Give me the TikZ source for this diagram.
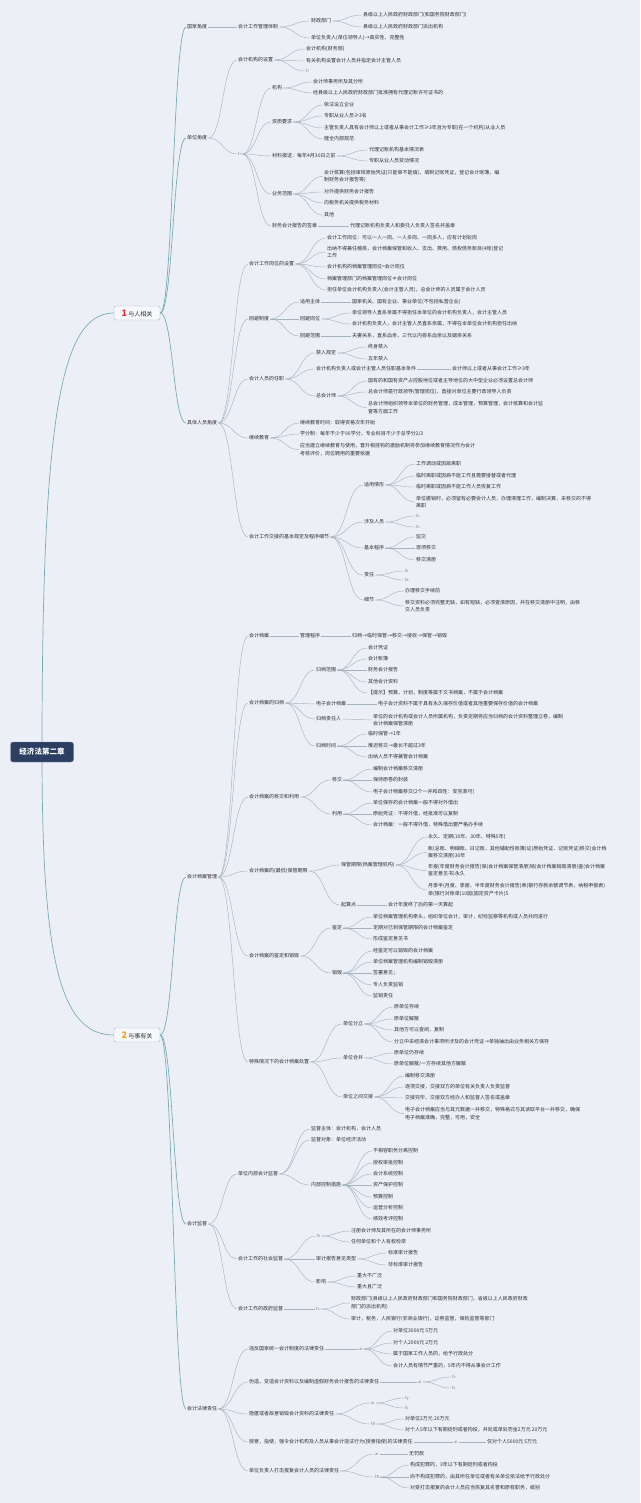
\documentclass[tikz,border=0pt]{standalone}
\usepackage{fontspec}
\setmainfont{Noto Sans CJK SC}
\usetikzlibrary{calc}
\definecolor{bgc}{RGB}{236,240,246}
\definecolor{lnc}{RGB}{165,178,192}
\definecolor{tlc}{RGB}{120,172,178}
\definecolor{txc}{RGB}{45,45,50}
\definecolor{navy}{RGB}{44,62,98}
\definecolor{mkred}{RGB}{222,50,45}
\definecolor{mkorg}{RGB}{238,160,30}
\tikzset{
 t/.style={anchor=west, inner sep=1pt, text=txc, align=left, font=\fontsize{5}{7.6}\selectfont},
 ic/.style={anchor=west, inner sep=1pt, text=gray, font=\fontsize{4}{5}\selectfont},
 ln/.style={draw=lnc, line width=0.45pt},
 tl/.style={draw=tlc, line width=0.7pt},
 rootbox/.style={draw=navy!60!white, fill=navy, text=white, rounded corners=2.5pt, font=\fontsize{7.5}{8}\selectfont\bfseries, minimum width=63, minimum height=20, inner sep=1pt},
 topbox/.style={draw=lnc, fill=white!55!bgc, rounded corners=2pt, text=txc, font=\fontsize{6}{7}\selectfont, minimum width=46, minimum height=14, inner sep=1.5pt}
}
\newcommand\lnk[3][ln]{\draw[#1] let \p1=(#2.east), \p2=(#3.west), \n1={(\x2-\x1)/2} in (\p1) .. controls +(\n1,0) and +(-\n1,0) .. (\p2);}
\newcommand\kids[2]{\foreach \cc in {#2}{\lnk{#1}{\cc}}}
\newcommand\tkids[2]{\foreach \cc in {#2}{\lnk[tl]{#1}{\cc}}}
\begin{document}
\begin{tikzpicture}[x=1pt,y=-1pt]
\fill[bgc] (0,0) rectangle (640,1503);
\useasboundingbox (0,0) rectangle (640,1503);
% root and top
\coordinate (rc) at (42,752);
\node[topbox] (one) at (137,313) {{\color{mkred}\fontsize{9}{9}\selectfont\bfseries 1}\ 与人相关};
\node[topbox] (two) at (137,1035) {{\color{mkorg}\fontsize{9}{9}\selectfont\bfseries 2}\ 与事有关};
\draw[tl] (rc) .. controls (42,420) and (60,313) .. (one.west);
\draw[tl] (rc) .. controls (42,960) and (60,1035) .. (two.west);
\node[rootbox] (root) at (rc) {经济法第二章};
% ---------- part 1
\node[t] (gj) at (186,27) {国家角度};
\node[t] (dw) at (186,138) {单位角度};
\node[t] (jt) at (186,423) {具体人员角度};
\node[t] (gzt) at (237,27) {会计工作管理体制};
\node[t] (czbm) at (310,21) {财政部门};
\node[t] (a1) at (362,15) {县级以上人民政府财政部门(和国务院财政部门)};
\node[t] (a2) at (362,27) {县级以上人民政府财政部门派出机构};
\node[t] (dwfz) at (310,38) {单位负责人(单位领导人)→真实性、完整性};
\node[t] (jgsz) at (237,60) {会计机构的设置};
\node[t] (b1) at (305,49) {会计机构(财务部)};
\node[t] (b2) at (305,61) {有关机构设置会计人员并指定会计主管人员};
\node[ic] (b3) at (305,71) {fr};
\node[ic] (fr1) at (237,154) {fr};
\node[t] (jg) at (271,88) {机构};
\node[t] (c1) at (312,82) {会计师事务所及其分所};
\node[t] (c2) at (312,93) {经县级以上人民政府财政部门批准拥有代理记账许可证书的};
\node[t] (zz) at (271,122) {资质要求};
\node[t] (d1) at (323,105) {依法设立企业};
\node[t] (d2) at (323,116) {专职从业人员≥3名};
\node[t] (d3) at (323,128) {主管负责人具有会计师以上或者从事会计工作≥3年且为专职(在一个机构)从业人员};
\node[t] (d4) at (323,139) {健全内部规范};
\node[t] (cl) at (271,156) {材料报送：每年4月30日之前};
\node[t] (e1) at (368,150) {代理记账机构基本情况表};
\node[t] (e2) at (368,161) {专职从业人员变动情况};
\node[t] (yw) at (271,194) {业务范围};
\node[t] (f1) at (323,176.5) {会计核算(包括审核原始凭证(只能审不能填)，填制记账凭证，登记会计账簿，编\\制财务会计报告等)};
\node[t] (f2) at (323,192) {对外提供财务会计报告};
\node[t] (f3) at (323,203) {向税务机关提供税务材料};
\node[t] (f4) at (323,215) {其他};
\node[t] (qz) at (271,226) {财务会计报告的签章};
\node[t] (g1) at (349,226) {代理记账机构负责人和委托人负责人签名并盖章};
\node[t] (gw) at (248,264) {会计工作岗位的设置};
\node[t] (h1) at (326,238) {会计工作岗位：可以一人一岗、一人多岗、一岗多人，应有计划轮岗};
\node[t] (h2) at (326,252) {出纳不得兼任稽核，会计档案保管和收入、支出、费用、债权债务账目(4账)登记\\工作};
\node[t] (h3) at (326,267) {会计机构的档案管理岗位=会计岗位};
\node[t] (h4) at (326,279) {档案管理部门的档案管理岗位≠会计岗位};
\node[t] (h5) at (326,290) {担任单位会计机构负责人(会计主管人员)，总会计师的人员属于会计人员};
\node[t] (hb) at (248,319) {回避制度};
\node[t] (syzt) at (299,302) {适用主体};
\node[t] (i1) at (351,302) {国家机关、国有企业、事业单位(不包括私营企业)};
\node[t] (hbzw) at (299,319) {回避岗位};
\node[t] (i2) at (351,313) {单位领导人直系亲属不得担任本单位的会计机构负责人，会计主管人员};
\node[t] (i3) at (351,324) {会计机构负责人，会计主管人员直系亲属，不得在本单位会计机构担任出纳};
\node[t] (hbfw) at (299,336) {回避范围};
\node[t] (i4) at (351,336) {夫妻关系，直系血亲，三代以内旁系血亲以及姻亲关系};
\node[t] (rz) at (248,379) {会计人员的任职};
\node[t] (jr) at (315,353) {禁入规定};
\node[t] (j1) at (367,347) {终身禁入};
\node[t] (j2) at (367,359) {五年禁入};
\node[t] (rzj) at (315,369) {会计机构负责人或会计主管人员任职基本条件};
\node[t] (j3) at (451,369) {会计师以上或者从事会计工作≥3年};
\node[t] (zkj) at (315,396) {总会计师};
\node[t] (j4) at (367,381) {国有的和国有资产占控股地位或者主导地位的大中型企业必须设置总会计师};
\node[t] (j5) at (367,392) {总会计师是行政领导(管理岗位)，直接对单位主要行政领导人负责};
\node[t] (j6) at (367,407.5) {总会计师组织领导本单位的财务管理，成本管理，预算管理，会计核算和会计监\\督等方面工作};
\node[t] (jx) at (248,438) {继续教育};
\node[t] (k1) at (299,423) {继续教育时间：取得资格次年开始};
\node[t] (k2) at (299,434) {学分制：每年不少于90学分，专业科目不少于总学分2/3};
\node[t] (k3) at (299,449.5) {应当建立继续教育与使用，晋升相挂钩的激励机制将参加继续教育情况作为会计\\考核评价，岗位聘用的重要依据};
\node[t] (jj) at (248,537) {会计工作交接的基本规定及程序细节};
\node[t] (sy) at (363,485) {适用情形};
\node[t] (l1) at (415,464) {工作调动或因故离职};
\node[t] (l2) at (415,476) {临时离职或因病不能工作且需要接替或者代理};
\node[t] (l3) at (415,487) {临时离职或因病不能工作人员恢复工作};
\node[t] (l4) at (415,502) {单位撤销时，必须留有必要会计人员，办理清理工作，编制决算，未移交的不得\\离职};
\node[t] (sj) at (363,522) {涉及人员};
\node[ic] (fo1) at (415,516) {fo};
\node[ic] (fo2) at (415,527) {fo};
\node[t] (jb) at (363,548) {基本程序};
\node[t] (m1) at (415,537) {监交};
\node[t] (m2) at (415,548) {逐项移交};
\node[t] (m3) at (415,560) {移交清册};
\node[t] (zr) at (363,575) {责任};
\node[ic] (fs1) at (404,571) {fs};
\node[ic] (fa1) at (404,580) {fa};
\node[t] (xj) at (363,600) {细节};
\node[t] (n1) at (404,591) {办理移交手续前};
\node[t] (n2) at (404,606) {移交资料必须完整无缺，如有短缺，必须查清原因，并在移交清册中注明，由移\\交人员负责};
% ---------- part 2
\node[t] (da) at (186,877) {会计档案管理};
\node[t] (jd) at (186,1224) {会计监督};
\node[t] (fl) at (186,1409) {会计法律责任};
\node[t] (dag) at (248,636) {会计档案};
\node[t] (glcx) at (299,636) {管理程序};
\node[t] (o1) at (351,636) {归档→临时保管→移交→接收→保管→销毁};
\node[t] (gd) at (248,703) {会计档案的归档};
\node[t] (gdfw) at (315,670) {归档范围};
\node[t] (p1) at (367,648) {会计凭证};
\node[t] (p2) at (367,659) {会计账簿};
\node[t] (p3) at (367,670) {财务会计报告};
\node[t] (p4) at (367,682) {其他会计资料};
\node[t] (p5) at (367,693) {【提示】预算，计划，制度等属于文书档案，不属于会计档案};
\node[t] (dz) at (315,704) {电子会计档案};
\node[t] (p6) at (377,704) {电子会计资料不属于具有永久保存价值或者其他重要保存价值的会计档案};
\node[t] (zrr) at (315,719) {归档责任人};
\node[t] (p7) at (372,720) {单位的会计机构或会计人员所属机构，负责定期将应当归档的会计资料整理立卷，编制\\会计档案保管清册};
\node[t] (sj2) at (315,746) {归档时间};
\node[t] (p8) at (367,734) {临时保管→1年};
\node[t] (p9) at (367,746) {推迟移交→最长不超过3年};
\node[t] (p10) at (367,757) {出纳人员不得兼管会计档案};
\node[t] (yj) at (248,797) {会计档案的移交和利用};
\node[t] (yjx) at (331,780) {移交};
\node[t] (q1) at (372,769) {编制会计档案移交清册};
\node[t] (q2) at (372,780) {保持原卷的封装};
\node[t] (q3) at (372,792) {电子会计档案移交(2个一并和四性：安完准可)};
\node[t] (ly) at (331,814) {利用};
\node[t] (q4) at (372,803) {单位保存的会计档案一般不得对外借出};
\node[t] (q5) at (372,814) {原始凭证：不得外借，经批准可以复制};
\node[t] (q6) at (372,825) {会计档案：一般不得外借，特殊借出要严格办手续};
\node[t] (bg) at (248,871) {会计档案的(最低)保管期限};
\node[t] (bgqx) at (340,865) {保管期限(档案管理机构)};
\node[t] (r1) at (427,837) {永久、定期(10年、30年、特殊5年)};
\node[t] (r2) at (427,852.5) {账(总账、明细账、日记账，其他辅助性账簿)证(原始凭证、记账凭证)移交(会计档\\案移交清册)30年};
\node[t] (r3) at (427,870.5) {年报(年度财务会计报告)保(会计档案保管清册)销(会计档案销毁清册)鉴(会计档案\\鉴定意见书)永久};
\node[t] (r4) at (427,890) {月季半(月度、季度、半年度财务会计报告)表(银行存款余额调节表，纳税申报表)\\单(银行对账单)10固(固定资产卡片)5};
\node[t] (qsd) at (340,905) {起算点};
\node[t] (r5) at (387,905) {会计年度终了后的第一天算起};
\node[t] (jdx) at (248,956) {会计档案的鉴定和销毁};
\node[t] (jding) at (331,928) {鉴定};
\node[t] (s1) at (372,917) {单位档案管理机构牵头，组织单位会计，审计，纪检监察等机构或人员共同进行};
\node[t] (s2) at (372,928) {定期对已到保管期限的会计档案鉴定};
\node[t] (s3) at (372,939) {形成鉴定意见书};
\node[t] (xh) at (331,973) {销毁};
\node[t] (s4) at (372,951) {经鉴定可以销毁的会计档案};
\node[t] (s5) at (372,962) {单位档案管理机构编制销毁清册};
\node[t] (s6) at (372,973) {签署意见；};
\node[t] (s7) at (372,985) {专人负责监销};
\node[t] (s8) at (372,996) {监销责任};
\node[t] (ts) at (248,1062) {特殊情况下的会计档案处置};
\node[t] (fl1) at (342,1024) {单位分立};
\node[t] (t1) at (393,1007) {原单位存续};
\node[t] (t2) at (393,1019) {原单位解散};
\node[t] (t3) at (393,1030) {其他方可以查阅，复制};
\node[t] (t4) at (393,1042) {分立中未结清会计事项所涉及的会计凭证→单独抽出由业务相关方保存};
\node[t] (hbing) at (342,1058) {单位合并};
\node[t] (t5) at (393,1053) {原单位仍存续};
\node[t] (t6) at (393,1064) {原单位解散/一方存续其他方解散};
\node[t] (jjie) at (342,1097) {单位之间交接};
\node[t] (t7) at (404,1076) {编制移交清册};
\node[t] (t8) at (404,1087) {逐项交接，交接双方的单位有关负责人负责监督};
\node[t] (t9) at (404,1098) {交接完毕，交接双方经办人和监督人签名或盖章};
\node[t] (t10) at (404,1113.5) {电子会计档案应当与其元数据一并移交，特殊格式与其读取平台一并移交，确保\\电子档案准确，完整，可用，安全};
\node[t] (nb) at (237,1174) {单位内部会计监督};
\node[t] (u1) at (310,1129) {监督主体：会计机构，会计人员};
\node[t] (u2) at (310,1140) {监督对象：单位经济活动};
\node[t] (kz) at (310,1185) {内部控制措施};
\node[t] (v1) at (372,1151) {不相容职务分离控制};
\node[t] (v2) at (372,1163) {授权审批控制};
\node[t] (v3) at (372,1174) {会计系统控制};
\node[t] (v4) at (372,1185) {资产保护控制};
\node[t] (v5) at (372,1197) {预算控制};
\node[t] (v6) at (372,1208) {运营分析控制};
\node[t] (v7) at (372,1219) {绩效考评控制};
\node[t] (sh) at (237,1259) {会计工作的社会监督};
\node[ic] (fs2) at (316,1236) {fs};
\node[t] (w1) at (350,1231) {注册会计师及其所在的会计师事务所};
\node[t] (w2) at (350,1242) {任何单位和个人有权检举};
\node[t] (bglx) at (315,1259) {审计报告意见类型};
\node[t] (w3) at (387,1253) {标准审计报告};
\node[t] (w4) at (387,1265) {非标准审计报告};
\node[t] (yx) at (315,1282) {影响};
\node[t] (w5) at (356,1276) {重大不广泛};
\node[t] (w6) at (356,1287) {重大且广泛};
\node[t] (zf) at (237,1309) {会计工作的政府监督};
\node[ic] (fv) at (315,1309) {fv};
\node[t] (x1) at (350,1303) {财政部门(县级以上人民政府财政部门和国务院财政部门，省级以上人民政府财政\\部门的派出机构)};
\node[t] (x2) at (350,1319) {审计，税务，人民银行(非商业银行)，证券监管，保险监管等部门};
\node[t] (wf) at (248,1349) {违反国家统一会计制度的法律责任};
\node[ic] (ai1) at (358,1349) {ai};
\node[t] (y1) at (392,1331) {对单位3000元~5万元};
\node[t] (y2) at (392,1343) {对个人2000元~2万元};
\node[t] (y3) at (392,1354) {属于国家工作人员的，给予行政处分};
\node[t] (y4) at (392,1366) {会计人员有情节严重的，5年内不得从事会计工作};
\node[t] (wz) at (248,1382) {伪造，变造会计资料以及编制虚假财务会计报告的法律责任};
\node[ic] (ai2) at (417,1382) {ai};
\node[ic] (fv2) at (451,1377) {fv};
\node[ic] (fz2) at (451,1388) {fz};
\node[t] (ny) at (248,1414) {隐匿或者故意销毁会计资料的法律责任};
\node[ic] (ai3) at (370,1403) {ai};
\node[ic] (fy3) at (404,1398) {fy};
\node[ic] (fz3) at (404,1408) {fz};
\node[ic] (fb3) at (370,1424) {fB};
\node[t] (z1) at (404,1419) {对单位2万元~20万元};
\node[t] (z2) at (404,1430) {对个人5年以下有期徒刑或者拘役，并处或单处罚金2万元~20万元};
\node[t] (sy2) at (248,1442) {授意，指使，强令会计机构及人员从事会计违法行为(授意指使)的法律责任};
\node[ic] (ai4) at (453,1442) {ai};
\node[t] (z3) at (486,1442) {仅对个人5000元~5万元};
\node[t] (dwfzr) at (248,1471) {单位负责人打击报复会计人员的法律责任};
\node[ic] (ai5) at (374,1454) {ai};
\node[t] (z4) at (408,1454) {无罚款};
\node[ic] (fb5) at (374,1477) {fB};
\node[t] (z5) at (409,1465) {构成犯罪的，3年以下有期徒刑或者拘役};
\node[t] (z6) at (409,1477) {尚不构成犯罪的，由其所在单位或者有关单位依法给予行政处分};
\node[t] (z7) at (409,1488) {对受打击报复的会计人员应当恢复其名誉和原有职务，级别};
% ---------- connectors
\tkids{one}{gj,dw,jt}
\tkids{two}{da,jd,fl}
\kids{gj}{gzt}
\kids{gzt}{czbm,dwfz}
\kids{czbm}{a1,a2}
\kids{dw}{jgsz,fr1}
\kids{jgsz}{b1,b2,b3}
\kids{fr1}{jg,zz,cl,yw,qz}
\kids{jg}{c1,c2}
\kids{zz}{d1,d2,d3,d4}
\kids{cl}{e1,e2}
\kids{yw}{f1,f2,f3,f4}
\kids{qz}{g1}
\kids{jt}{gw,hb,rz,jx,jj}
\kids{gw}{h1,h2,h3,h4,h5}
\kids{hb}{syzt,hbzw,hbfw}
\kids{syzt}{i1}
\kids{hbzw}{i2,i3}
\kids{hbfw}{i4}
\kids{rz}{jr,rzj,zkj}
\kids{jr}{j1,j2}
\kids{rzj}{j3}
\kids{zkj}{j4,j5,j6}
\kids{jx}{k1,k2,k3}
\kids{jj}{sy,sj,jb,zr,xj}
\kids{sy}{l1,l2,l3,l4}
\kids{sj}{fo1,fo2}
\kids{jb}{m1,m2,m3}
\kids{zr}{fs1,fa1}
\kids{xj}{n1,n2}
\kids{da}{dag,gd,yj,bg,jdx,ts}
\kids{dag}{glcx}
\kids{glcx}{o1}
\kids{gd}{gdfw,dz,zrr,sj2}
\kids{gdfw}{p1,p2,p3,p4,p5}
\kids{dz}{p6}
\kids{zrr}{p7}
\kids{sj2}{p8,p9,p10}
\kids{yj}{yjx,ly}
\kids{yjx}{q1,q2,q3}
\kids{ly}{q4,q5,q6}
\kids{bg}{bgqx,qsd}
\kids{bgqx}{r1,r2,r3,r4}
\kids{qsd}{r5}
\kids{jdx}{jding,xh}
\kids{jding}{s1,s2,s3}
\kids{xh}{s4,s5,s6,s7,s8}
\kids{ts}{fl1,hbing,jjie}
\kids{fl1}{t1,t2,t3,t4}
\kids{hbing}{t5,t6}
\kids{jjie}{t7,t8,t9,t10}
\kids{jd}{nb,sh,zf}
\kids{nb}{u1,u2,kz}
\kids{kz}{v1,v2,v3,v4,v5,v6,v7}
\kids{sh}{fs2,bglx,yx}
\kids{fs2}{w1,w2}
\kids{bglx}{w3,w4}
\kids{yx}{w5,w6}
\kids{zf}{fv}
\kids{fv}{x1,x2}
\kids{fl}{wf,wz,ny,sy2,dwfzr}
\kids{wf}{ai1}
\kids{ai1}{y1,y2,y3,y4}
\kids{wz}{ai2}
\kids{ai2}{fv2,fz2}
\kids{ny}{ai3,fb3}
\kids{ai3}{fy3,fz3}
\kids{fb3}{z1,z2}
\kids{sy2}{ai4}
\kids{ai4}{z3}
\kids{dwfzr}{ai5,fb5}
\kids{ai5}{z4}
\kids{fb5}{z5,z6,z7}
\end{tikzpicture}
\end{document}
